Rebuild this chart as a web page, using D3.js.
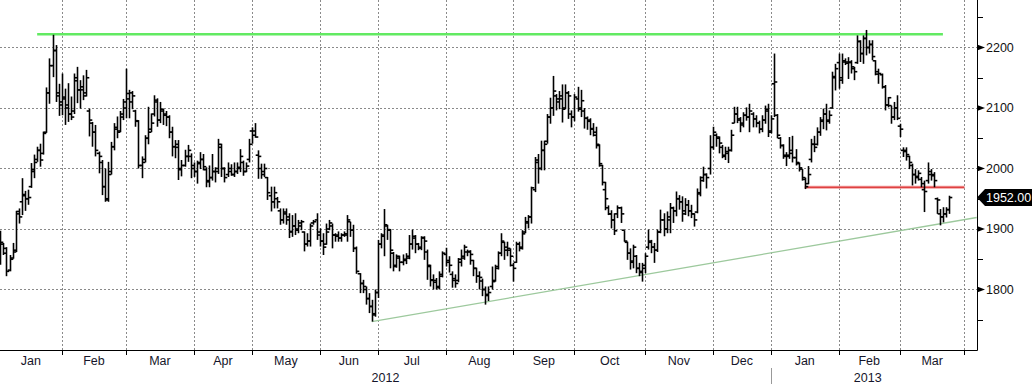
<!DOCTYPE html>
<html><head><meta charset="utf-8">
<script src="https://cdn.jsdelivr.net/npm/d3@7"></script>
<style>
html,body{margin:0;padding:0;background:#fff;}
svg{display:block;}
text{font-family:"Liberation Sans",Arial,sans-serif;}
</style></head><body>
<svg id="chart" width="1032" height="384"></svg>
<script>
// ---------- DATA ----------
const monthLabels = ["Jan","Feb","Mar","Apr","May","Jun","Jul","Aug","Sep","Oct","Nov","Dec","Jan","Feb","Mar"];
const monthYears = [2012,2012,2012,2012,2012,2012,2012,2012,2012,2012,2012,2012,2013,2013,2013];
const monthTradingDays = [21,21,22,19,22,19,22,22,20,23,22,19,22,20,21];
const firstBarOffset = 1; // first trading day of Jan 2012 falls before the window
const yTicks = [1800,1900,2000,2100,2200];
const yMinorTicks = [1750,1850,1950,2050,2150,2250];
const lastPrice = 1952.00;
const resistanceLine = [[12,2222],[307,2222]];
const supportLine = [[121,1747],[318,1919]];
const breakLine = [[262,1969],[314,1969]];

const openPrices = [
1885,1875,1860,1832,1852,1865,1925,1945,1955,1950,1970,1995,2015,2030,2025,2060,2125,2170,2195,2120,
2110,2115,2100,2090,2095,2145,2130,2130,2125,2095,2075,2060,2025,2010,1970,1950,1995,2036,2065,2062,2090,
2110,2115,2125,2095,2078,2005,2015,2050,2065,2090,2110,2080,2095,2088,2085,2060,2036,2035,2000,2005,2020,2020,
2005,1995,2010,2015,1998,1980,1985,1995,2000,2035,2000,1990,1995,1990,1995,2000,2010,1995,2015,
2062,2062,2022,2000,1995,1985,1955,1945,1950,1930,1915,1925,1915,1895,1905,1900,1905,1895,1875,1880,1910,1915,
1895,1880,1875,1900,1905,1890,1888,1885,1890,1890,1912,1898,1868,1826,1810,1800,1785,1772,1760,
1795,1875,1890,1905,1898,1860,1840,1852,1845,1848,1855,1875,1885,1875,1868,1885,1862,1838,1815,1812,1805,1825,
1858,1848,1825,1815,1815,1845,1855,1862,1862,1848,1835,1822,1814,1800,1790,1805,1815,1835,1860,1878,1865,1865,
1840,1845,1875,1870,1895,1910,1920,1965,2010,2000,2030,2045,2085,2100,2120,2110,2115,2100,2125,2090,
2085,2115,2100,2095,2083,2078,2065,2055,2038,2005,1965,1935,1925,1915,1925,1935,1898,1878,1860,1845,1855,1835,1828,
1840,1870,1878,1870,1865,1895,1915,1900,1915,1935,1930,1950,1945,1930,1940,1930,1925,1928,1958,1985,1990,2000,
2035,2055,2050,2035,2020,2025,2030,2075,2090,2080,2075,2088,2085,2090,2082,2075,2065,2080,2095,
2062,2140,2088,2050,2038,2020,2020,2030,2018,2008,1999,1982,1975,2015,2040,2040,2060,2080,2090,2080,2100,2150,
2175,2150,2176,2176,2175,2165,2175,2210,2190,2215,2200,2205,2178,2160,2155,2135,2105,2104,2085,2100,
2070,2030,2030,2020,2005,1990,1985,1982,1965,1980,1990,1990,1950,1925,1920,1925,1932
];
const highPrices = [
1897,1877,1870,1857,1877,1930,1934,1984,1963,1965,2009,2023,2036,2041,2061,2134,2182,2221,2204,2140,
2157,2132,2141,2119,2157,2168,2146,2154,2163,2099,2077,2072,2028,2014,2000,2011,2044,2075,2086,2095,2115,
2165,2130,2128,2097,2080,2020,2055,2102,2091,2121,2116,2110,2099,2095,2088,2069,2047,2047,2014,2031,2039,2025,
2010,2013,2027,2024,2002,2005,2024,2002,2049,2041,2002,2010,2007,2010,2010,2032,2013,2010,2049,
2068,2075,2030,2008,2008,1986,1970,1970,1953,1934,1934,1934,1926,1923,1926,1915,1915,1896,1893,1909,1915,1926,
1901,1893,1909,1915,1909,1893,1896,1893,1896,1923,1912,1907,1871,1827,1816,1805,1794,1783,1800,
1882,1893,1933,1907,1900,1862,1858,1856,1858,1860,1890,1899,1890,1877,1888,1888,1866,1841,1825,1819,1830,1863,
1869,1855,1830,1825,1852,1866,1874,1866,1865,1849,1836,1830,1818,1805,1805,1838,1841,1863,1893,1879,1879,1868,
1844,1879,1879,1898,1920,1923,1970,2019,2024,2046,2046,2090,2117,2153,2123,2128,2139,2139,2128,2096,
2123,2135,2130,2100,2086,2083,2075,2069,2040,2006,1978,1939,1931,1926,1939,1937,1898,1879,1868,1874,1857,1844,1844,
1860,1899,1882,1877,1899,1932,1926,1929,1943,1937,1962,1956,1954,1951,1948,1940,1926,1967,1987,2003,1992,2055,
2069,2058,2053,2039,2036,2036,2064,2102,2102,2085,2093,2101,2107,2093,2088,2079,2088,2104,2107,
2088,2190,2090,2052,2040,2027,2052,2054,2032,2010,1999,1985,2004,2049,2054,2068,2085,2099,2107,2096,2160,2173,
2190,2190,2182,2184,2179,2168,2220,2212,2220,2229,2212,2212,2179,2165,2157,2138,2118,2104,2110,2121,
2074,2035,2035,2021,2008,1999,1997,1986,1980,2010,1999,1994,1952,1933,1936,1936,1955
];
const lowPrices = [
1841,1857,1822,1830,1851,1862,1909,1923,1930,1940,1968,1984,2011,2003,2023,2059,2107,2151,2110,2087,
2088,2072,2077,2080,2090,2108,2099,2113,2119,2053,2036,2020,1992,1956,1945,1945,1990,2030,2050,2060,2080,
2083,2083,2098,2069,2000,1984,2010,2040,2060,2086,2069,2075,2072,2070,2050,2020,2017,1981,1987,2003,2011,1984,
1986,1975,1999,1997,1969,1969,1980,1977,1991,1986,1977,1986,1988,1986,1991,1994,1988,1994,2010,
2041,2051,1983,1983,1986,1948,1929,1934,1934,1907,1909,1907,1885,1887,1890,1893,1898,1863,1871,1871,1907,1882,
1871,1857,1874,1898,1868,1879,1879,1879,1887,1879,1887,1862,1826,1794,1794,1775,1761,1747,1755,
1786,1868,1855,1882,1835,1830,1836,1830,1840,1842,1850,1866,1860,1865,1865,1849,1816,1805,1800,1800,1800,1820,
1838,1828,1803,1803,1812,1838,1849,1855,1841,1822,1811,1800,1789,1775,1781,1800,1813,1833,1855,1849,1855,1838,
1813,1844,1863,1866,1893,1901,1909,1961,1975,1997,1997,2041,2074,2087,2096,2098,2076,2098,2082,2068,
2078,2094,2085,2066,2064,2055,2053,2033,2003,1972,1931,1923,1901,1890,1918,1910,1879,1849,1833,1835,1827,1822,1813,
1827,1866,1860,1844,1862,1893,1888,1893,1893,1910,1921,1932,1912,1923,1921,1918,1904,1926,1954,1978,1967,1990,
2031,2036,2025,2017,2014,2009,2028,2075,2075,2060,2068,2079,2060,2068,2068,2058,2060,2074,2052,
2058,2085,2050,2033,2016,2004,2016,2010,2005,1995,1980,1966,1974,2010,2027,2038,2054,2065,2063,2074,2099,2129,
2132,2140,2171,2148,2157,2146,2173,2176,2173,2187,2190,2179,2154,2140,2132,2096,2101,2074,2080,2080,
2052,2019,2013,1999,1972,1975,1980,1969,1928,1975,1980,1969,1925,1906,1911,1919,1925
];
const closePrices = [
1878,1868,1830,1850,1862,1929,1920,1957,1950,1952,1998,2010,2030,2014,2058,2125,2170,2195,2125,2105,
2118,2105,2090,2085,2150,2130,2135,2120,2150,2080,2060,2030,2020,1970,1948,1990,2036,2068,2060,2085,2100,
2124,2110,2120,2079,2005,2010,2050,2060,2075,2113,2080,2098,2090,2085,2060,2036,2040,1998,2005,2020,2030,2000,
1995,2008,2015,2003,1978,1985,1995,1995,2040,2000,1985,2000,1990,1995,2002,2020,1995,2004,2040,
2055,2052,2020,1990,2000,1960,1945,1960,1945,1915,1928,1920,1896,1905,1898,1910,1912,1875,1880,1905,1912,1890,
1880,1870,1895,1910,1890,1890,1885,1890,1892,1915,1898,1868,1830,1810,1805,1785,1772,1758,1795,
1875,1888,1907,1899,1865,1838,1855,1845,1850,1852,1875,1888,1875,1870,1886,1880,1840,1816,1815,1803,1822,1860,
1845,1840,1818,1810,1850,1852,1870,1863,1858,1835,1822,1820,1800,1792,1795,1813,1838,1860,1880,1870,1868,1855,
1835,1875,1868,1892,1912,1920,1968,2014,2000,2030,2040,2085,2100,2128,2115,2120,2098,2125,2120,2085,
2118,2098,2112,2083,2080,2066,2060,2040,2008,1977,1950,1925,1915,1897,1935,1925,1880,1860,1847,1870,1835,1830,1835,
1855,1880,1870,1865,1895,1915,1900,1920,1935,1930,1950,1945,1925,1940,1930,1925,1915,1960,1980,1990,1985,2035,
2060,2052,2042,2022,2028,2030,2055,2090,2082,2072,2088,2085,2095,2082,2075,2065,2080,2098,2060,
2082,2143,2055,2038,2022,2022,2025,2018,2010,2001,1985,1970,1990,2040,2035,2060,2078,2090,2078,2088,2152,2165,
2146,2178,2174,2176,2168,2160,2210,2190,2215,2200,2205,2185,2156,2157,2135,2105,2117,2085,2100,2083,
2065,2028,2023,2010,1990,1987,1992,1975,1962,1995,1988,1980,1948,1920,1925,1932,1952
];

// ---------- CHECK ----------
const nBars = closePrices.length;
if (openPrices.length !== nBars || highPrices.length !== nBars || lowPrices.length !== nBars) {
  throw new Error("length mismatch " + [openPrices.length, highPrices.length, lowPrices.length, nBars].join(","));
}

// ---------- LAYOUT ----------
const W = 1032, H = 384;
const plotRight = 977, plotBottom = 350;
const svg = d3.select("#chart");

const x = d3.scaleLinear().domain([-0.1, 318.1]).range([0, plotRight]);
const y = d3.scaleLinear().domain([1700, 2278.5]).range([plotBottom, 0]);

const bars = d3.range(nBars).map(i => ({
  i, o: openPrices[i], h: highPrices[i], l: lowPrices[i], c: closePrices[i]
}));

// month start indices
const monthStarts = [];
let s = -firstBarOffset;
monthTradingDays.forEach(d => { monthStarts.push(s); s += d; });
monthStarts.push(s); // end boundary after last month

const px = v => Math.round(v) + 0.5;

// clip
svg.append("defs").append("clipPath").attr("id","plotclip")
  .append("rect").attr("x",0).attr("y",0).attr("width",plotRight).attr("height",plotBottom);

// gridlines
const grid = svg.append("g").attr("stroke","#8a8a8a").attr("stroke-width",1).attr("stroke-dasharray","2,2");
monthStarts.filter(m => x(m) > 0 && x(m) < plotRight).forEach(m => {
  grid.append("line").attr("x1",px(x(m))).attr("x2",px(x(m))).attr("y1",0).attr("y2",plotBottom);
});
yTicks.forEach(v => {
  grid.append("line").attr("x1",0).attr("x2",plotRight).attr("y1",px(y(v))).attr("y2",px(y(v)));
});

// trend lines
const lineGen = d3.line().x(d => x(d[0])).y(d => y(d[1]));
const tl = svg.append("g").attr("clip-path","url(#plotclip)").attr("fill","none");
tl.append("path").attr("d", lineGen(supportLine)).attr("stroke","#9dc99d").attr("stroke-width",1.3);
tl.append("path").attr("d", lineGen(resistanceLine)).attr("stroke","#62ea62").attr("stroke-width",2.4);
tl.append("path").attr("d", lineGen(breakLine)).attr("stroke","#f29a9a").attr("stroke-width",3);
tl.append("path").attr("d", lineGen(breakLine)).attr("stroke","#d82424").attr("stroke-width",1);

// OHLC bars
const gb = svg.append("g").attr("clip-path","url(#plotclip)").attr("stroke","#000").attr("stroke-width",1.6);
bars.forEach(b => {
  const cx = Math.round(x(b.i)) + 0.5;
  const hi = d3.max([b.h, b.o, b.c]), lo = d3.min([b.l, b.o, b.c]);
  gb.append("line").attr("x1",cx).attr("x2",cx).attr("y1",y(hi)).attr("y2",y(lo));
  gb.append("line").attr("x1",cx-2.8).attr("x2",cx).attr("y1",y(b.o)).attr("y2",y(b.o));
  gb.append("line").attr("x1",cx).attr("x2",cx+2.8).attr("y1",y(b.c)).attr("y2",y(b.c));
});

// axes lines
svg.append("line").attr("x1",0).attr("x2",plotRight+0.5).attr("y1",plotBottom+0.5).attr("y2",plotBottom+0.5)
  .attr("stroke","#000").attr("stroke-width",1);
svg.append("line").attr("x1",plotRight+0.5).attr("x2",plotRight+0.5).attr("y1",0).attr("y2",plotBottom+0.5)
  .attr("stroke","#000").attr("stroke-width",1);

// y axis ticks and labels
const ya = svg.append("g");
yTicks.forEach(v => {
  const yy = y(v);
  ya.append("path").attr("d",`M${plotRight},${yy-3}L${plotRight+8},${yy}L${plotRight},${yy+3}Z`).attr("fill","#000");
  ya.append("text").attr("x",986).attr("y",yy+4.5).attr("font-size",12.5).attr("fill","#111").text(v);
});
yMinorTicks.forEach(v => {
  const yy = px(y(v));
  ya.append("line").attr("x1",plotRight).attr("x2",plotRight+6).attr("y1",yy).attr("y2",yy).attr("stroke","#000");
});

// x axis month ticks and labels
const xa = svg.append("g");
monthStarts.forEach(m => {
  const xx = x(m);
  if (xx > 0 && xx <= plotRight) {
    xa.append("line").attr("x1",px(xx)).attr("x2",px(xx)).attr("y1",plotBottom).attr("y2",plotBottom+5)
      .attr("stroke","#000");
  }
});
monthLabels.forEach((lab, k) => {
  const cx = (Math.max(0, x(monthStarts[k])) + x(monthStarts[k+1])) / 2;
  xa.append("text").attr("x",cx).attr("y",365).attr("text-anchor","middle")
    .attr("font-size",12.5).attr("fill","#15152a").text(lab);
});
// year labels
const years = Array.from(new Set(monthYears));
years.forEach(yr => {
  const ks = monthYears.map((v,k)=>v===yr?k:-1).filter(k=>k>=0);
  const x0 = Math.max(0, x(monthStarts[ks[0]]));
  const x1 = Math.min(plotRight, x(monthStarts[ks[ks.length-1]+1]));
  xa.append("text").attr("x",(x0+x1)/2).attr("y",382).attr("text-anchor","middle")
    .attr("font-size",12.5).attr("fill","#15152a").text(yr);
  if (x0 > 0) {
    xa.append("line").attr("x1",px(x0)).attr("x2",px(x0)).attr("y1",368).attr("y2",384)
      .attr("stroke","#999").attr("stroke-width",1);
  }
});

// last price tag
const ly = y(lastPrice);
svg.append("path")
  .attr("d",`M${plotRight},${ly}L${plotRight+8},${ly-8.5}L${W},${ly-8.5}L${W},${ly+8.5}L${plotRight+8},${ly+8.5}Z`)
  .attr("fill","#000");
svg.append("text").attr("x",986).attr("y",ly+4.5).attr("font-size",12.5).attr("fill","#fff")
  .text(lastPrice.toFixed(2));
</script>
</body></html>
